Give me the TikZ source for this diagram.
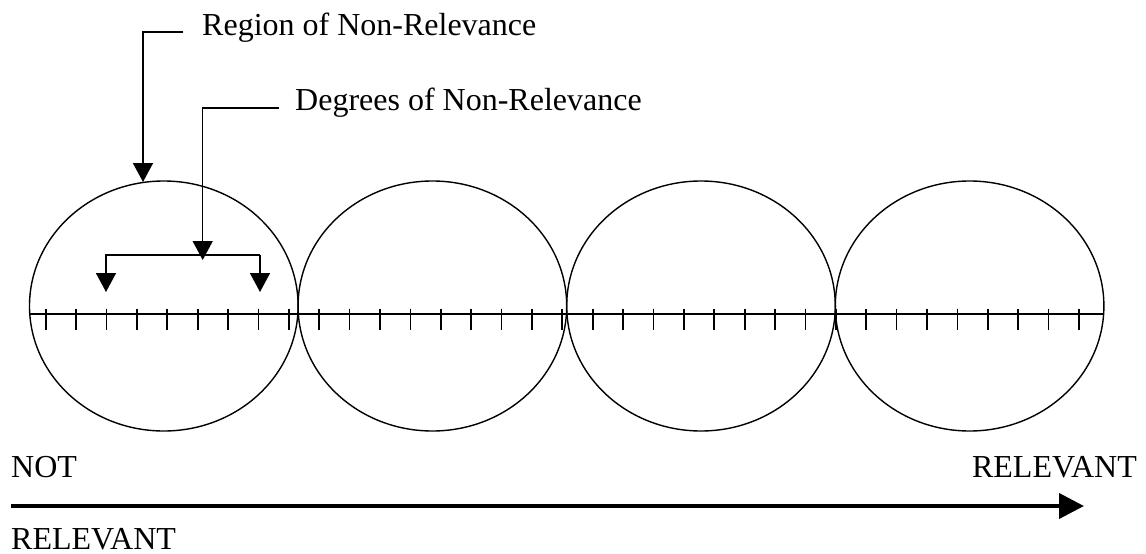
\documentclass[tikz,border=0pt]{standalone}
\usepackage{fontspec}
\setmainfont{Liberation Serif}
\usetikzlibrary{arrows.meta,shapes.geometric}
\begin{document}
\begin{tikzpicture}[x=1pt,y=-1pt,
  region/.style={draw,ellipse,line width=1.4pt,minimum width=268.6pt,minimum height=250pt,inner sep=0pt},
  lbl/.style={inner sep=0pt,font=\fontsize{32}{36}\selectfont},
  conn/.style={line width=1.5pt},
  tri/.style={conn,-{Triangle[width=20pt,length=19pt]}},
  tickmark/.style={line width=1.7pt},
  bigarrow/.style={line width=4pt,-{Triangle[width=25pt,length=25pt]}}]
\useasboundingbox (0,0) rectangle (1146,554);
% regions
\node[region] (c1) at (163.8,306) {};
\node[region] (c2) at (432.4,306) {};
\node[region] (c3) at (701.0,306) {};
\node[region] (c4) at (969.6,306) {};
% axis
\coordinate (axL) at (29.5,314);
\coordinate (axR) at (1104,314);
\draw[conn] (axL) -- (axR);
\foreach \k in {0,...,34}{
  \draw[tickmark] ({45.7+\k*30.39},308.5) -- ({45.7+\k*30.39},330);
}
% labels
\node[lbl,anchor=base west] (reg) at (202,35) {Region of Non-Relevance};
\node[lbl,anchor=base west] (deg) at (295,110) {Degrees of Non-Relevance};
\node[lbl,anchor=base west] (not) at (11,477) {NOT};
\node[lbl,anchor=base east] (rel) at (1137,477) {RELEVANT};
\node[lbl,anchor=base west] (rel2) at (11,549) {RELEVANT};
% region connector
\coordinate (r0) at (183,32);
\coordinate (rtip) at (143,182);
\draw[tri] (r0) -| (rtip);
% degrees connector
\coordinate (d0) at (279,108);
\coordinate (dtip) at (202.7,260);
\draw[tri] (d0) -| (dtip);
% bracket
\coordinate (b1) at (106,255);
\coordinate (b2) at (260,255);
\coordinate (t1) at (106,292);
\coordinate (t2) at (260,292);
\draw[tri] (b2) -- (b1) -- (t1);
\draw[tri] (b2) -- (t2);
% big arrow
\coordinate (aL) at (11,506);
\coordinate (aR) at (1084,506);
\draw[bigarrow] (aL) -- (aR);
\end{tikzpicture}
\end{document}
